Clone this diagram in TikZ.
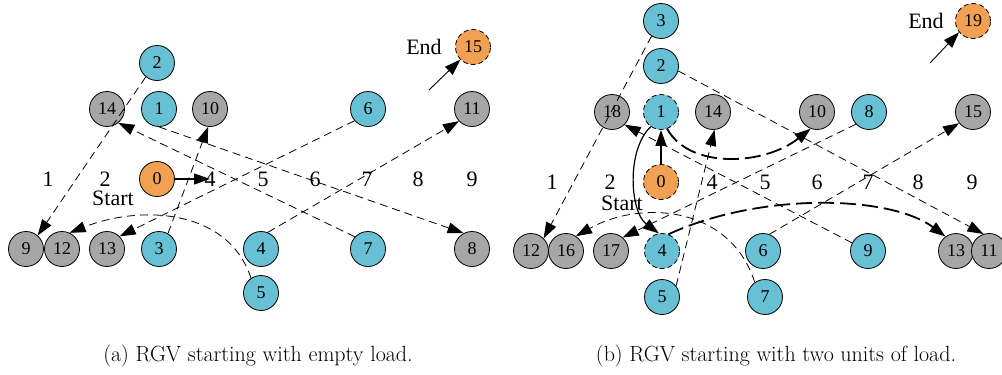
\documentclass[tikz,border=0pt]{standalone}
\usepackage{fontspec}
\newfontfamily\tnr{Liberation Serif}
\usetikzlibrary{arrows.meta}
\definecolor{stationblue}{RGB}{104,192,212}
\definecolor{stationgray}{RGB}{166,166,166}
\definecolor{endorange}{RGB}{242,160,82}
\begin{document}
\begin{tikzpicture}[x=1pt,y=-1pt,
  stn/.style={circle, draw, line width=0.8pt, minimum size=35pt, inner sep=0pt,
    font=\tnr\fontsize{18}{18}\selectfont},
  bluestn/.style={stn, fill=stationblue},
  graystn/.style={stn, fill=stationgray},
  orangestn/.style={stn, fill=endorange},
  dashring/.style={dash pattern=on 5pt off 3pt},
  poslabel/.style={inner sep=0pt, font=\tnr\fontsize{22}{22}\selectfont},
  tip/.style={-{Triangle[length=16pt,width=11pt]}},
  route/.style={tip, line width=0.8pt, dash pattern=on 8pt off 5pt},
  mainroute/.style={tip, line width=1.8pt, dash pattern=on 16pt off 6pt},
  move/.style={tip, line width=1.2pt},
  caption/.style={inner sep=0pt, font=\fontsize{22}{26}\selectfont}]
\useasboundingbox (0,0) rectangle (1002,375);

% ---------------- (a) empty load ----------------
\foreach \n/\x in {1/48,2/105,4/210,5/263,6/315,7/367,8/418,9/472}
  \node[poslabel] (la\n) at (\x,179) {\n};
\node[poslabel] (startA) at (113,198) {Start};
\node[poslabel] (endA) at (424,47) {End};

\node[bluestn] (A2) at (157,63) {2};
\node[graystn] (A14) at (107,109) {14};
\node[bluestn] (A1) at (159,109) {1};
\node[graystn] (A10) at (210,109) {10};
\node[bluestn] (A6) at (368,109) {6};
\node[graystn] (A11) at (472,109) {11};
\node[orangestn, dashring] (A15) at (473,47) {15};
\node[orangestn] (A0) at (157,179) {0};
\node[graystn] (A9) at (26,249) {9};
\node[graystn] (A12) at (62,249) {12};
\node[graystn] (A13) at (107,249) {13};
\node[bluestn] (A3) at (159,249) {3};
\node[bluestn] (A4) at (261,249) {4};
\node[bluestn] (A7) at (368,249) {7};
\node[graystn] (A8) at (472,249) {8};
\node[bluestn] (A5) at (261,293) {5};

\draw[move] (A0.east) -- (la4.center);
\draw[route] (A1.270) -- (A8.118);
\draw[route] (A7.137) -- (A14.309);
\draw[route] (A2.231) -- (A9.49);
\draw[route] (A3.60) -- (A10.264);
\draw[route] (A6.221) -- (A13.45);
\draw[route] (A4.68) -- (A11.223);
\draw[route] (A5.124) .. controls (228,208) and (140,205) .. (A12.65);
\coordinate (endAin) at (429,90);
\draw[tip, line width=0.9pt] (endAin) -- (A15.225);

% ---------------- (b) two units of load ----------------
\foreach \n/\x in {1/552,2/610,4/712,5/765,6/817,7/868,8/918,9/972}
  \node[poslabel] (lb\n) at (\x,182) {\n};
\node[poslabel] (startB) at (622,203) {Start};
\node[poslabel] (endB) at (926,21) {End};

\node[bluestn] (B3) at (661,21) {3};
\node[bluestn] (B2) at (661,66) {2};
\node[bluestn, dashring] (B1) at (661,112) {1};
\node[graystn] (B18) at (612,112) {18};
\node[graystn] (B14) at (713,112) {14};
\node[graystn] (B10) at (817,112) {10};
\node[bluestn] (B8) at (869,112) {8};
\node[graystn] (B15) at (973,112) {15};
\node[orangestn, dashring] (B19) at (973,21) {19};
\node[orangestn, dashring] (B0) at (661,182) {0};
\node[graystn] (B12) at (531,251) {12};
\node[graystn] (B16) at (566,251) {16};
\node[graystn] (B17) at (611,251) {17};
\node[bluestn, dashring] (B4) at (662,251) {4};
\node[bluestn] (B6) at (763,251) {6};
\node[bluestn] (B9) at (868,251) {9};
\node[graystn] (B13) at (956,251) {13};
\node[graystn] (B11) at (989,251) {11};
\node[bluestn] (B5) at (662,297) {5};
\node[bluestn] (B7) at (765,297) {7};

\draw[move] (B0.north) -- (B1.south);
\draw[move] (B1.235) .. controls (626,150) and (630,212) .. (B4.100);
\draw[mainroute] (B1.290) .. controls (690,170) and (765,165) .. (B10.249);
\draw[mainroute] (B4.69) .. controls (760,192) and (890,195) .. (B13.126);
\draw[route] (B2.344) -- (B11.108);
\draw[route] (B3.238) -- (B12.45);
\draw[route] (B9.153) -- (B18.315);
\draw[route] (B5.38) -- (B14.275);
\draw[route] (B8.223) -- (B17.49);
\draw[route] (B6.69) -- (B15.219);
\draw[route] (B7.125) .. controls (730,205) and (640,200) .. (B16.56);
\coordinate (endBin) at (930,63);
\draw[tip, line width=0.9pt] (endBin) -- (B19.219);

% ---------------- captions ----------------
\node[caption] (capA) at (258,356) {(a) RGV starting with empty load.};
\node[caption] (capB) at (776,356) {(b) RGV starting with two units of load.};
\end{tikzpicture}
\end{document}
